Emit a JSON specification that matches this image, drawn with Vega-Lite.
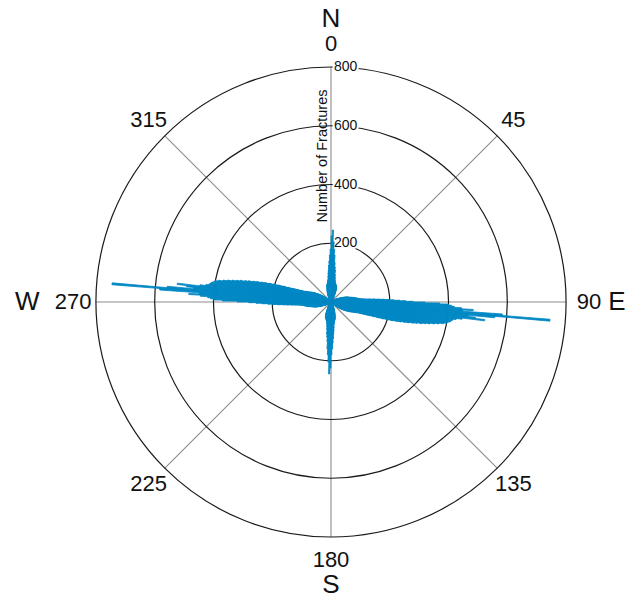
{
  "$schema": "https://vega.github.io/schema/vega-lite/v6.json",
  "width": 596,
  "height": 604,
  "autosize": {"type": "none"},
  "padding": {"left": 33, "top": 0, "right": 0, "bottom": 0},
  "background": "white",
  "config": {"view": {"stroke": null}, "font": "Liberation Sans"},
  "datasets": {
    "rose": [
      {"a":0,"b":1,"v":225},{"a":1,"b":2,"v":245},{"a":2,"b":3,"v":205},{"a":3,"b":4,"v":180},{"a":4,"b":5,"v":160},{"a":5,"b":6,"v":135},{"a":6,"b":7,"v":120},{"a":7,"b":8,"v":110},{"a":8,"b":9,"v":95},{"a":9,"b":10,"v":85},
      {"a":10,"b":11,"v":77},{"a":11,"b":12,"v":72},{"a":12,"b":13,"v":68},{"a":13,"b":14,"v":66},{"a":14,"b":15,"v":64},{"a":15,"b":16,"v":62},{"a":16,"b":17,"v":61},{"a":17,"b":18,"v":60},{"a":18,"b":19,"v":58},{"a":19,"b":20,"v":56},
      {"a":20,"b":21,"v":55},{"a":21,"b":22,"v":52},{"a":22,"b":23,"v":48},{"a":23,"b":24,"v":45},{"a":24,"b":25,"v":40},{"a":25,"b":26,"v":36},{"a":26,"b":27,"v":31},{"a":27,"b":28,"v":28},{"a":28,"b":29,"v":25},{"a":29,"b":30,"v":22},
      {"a":30,"b":31,"v":20},{"a":31,"b":32,"v":18},{"a":32,"b":33,"v":16},{"a":33,"b":34,"v":15},{"a":34,"b":35,"v":13},{"a":35,"b":36,"v":12},{"a":36,"b":37,"v":11},{"a":37,"b":38,"v":10},{"a":38,"b":39,"v":9},{"a":39,"b":40,"v":8},
      {"a":40,"b":41,"v":7},{"a":41,"b":42,"v":6},{"a":42,"b":43,"v":5},{"a":43,"b":44,"v":5},{"a":44,"b":45,"v":4},{"a":45,"b":46,"v":4},{"a":46,"b":47,"v":4},{"a":47,"b":48,"v":5},{"a":48,"b":49,"v":5},{"a":49,"b":50,"v":6},
      {"a":50,"b":51,"v":7},{"a":51,"b":52,"v":8},{"a":52,"b":53,"v":9},{"a":53,"b":54,"v":10},{"a":54,"b":55,"v":11},{"a":55,"b":56,"v":12},{"a":56,"b":57,"v":14},{"a":57,"b":58,"v":15},{"a":58,"b":59,"v":17},{"a":59,"b":60,"v":19},
      {"a":60,"b":61,"v":21},{"a":61,"b":62,"v":23},{"a":62,"b":63,"v":25},{"a":63,"b":64,"v":28},{"a":64,"b":65,"v":30},{"a":65,"b":66,"v":33},{"a":66,"b":67,"v":36},{"a":67,"b":68,"v":40},{"a":68,"b":69,"v":43},{"a":69,"b":70,"v":47},
      {"a":70,"b":71,"v":50},{"a":71,"b":72,"v":54},{"a":72,"b":73,"v":57},{"a":73,"b":74,"v":60},{"a":74,"b":75,"v":63},{"a":75,"b":76,"v":66},{"a":76,"b":77,"v":70},{"a":77,"b":78,"v":74},{"a":78,"b":79,"v":78},{"a":79,"b":80,"v":82},
      {"a":80,"b":81,"v":86},{"a":81,"b":82,"v":90},{"a":82,"b":83,"v":94},{"a":83,"b":84,"v":100},
      {"a":84,"b":84.5,"v":105},{"a":84.5,"b":85,"v":112},{"a":85,"b":85.5,"v":122},{"a":85.5,"b":86,"v":135},{"a":86,"b":86.5,"v":150},{"a":86.5,"b":87,"v":165},{"a":87,"b":87.5,"v":182},{"a":87.5,"b":88,"v":198},
      {"a":88,"b":88.5,"v":215},{"a":88.5,"b":89,"v":235},{"a":89,"b":89.5,"v":255},{"a":89.5,"b":90,"v":280},{"a":90,"b":90.5,"v":320},{"a":90.5,"b":91,"v":370},{"a":91,"b":91.5,"v":400},{"a":91.5,"b":92,"v":410},
      {"a":92,"b":92.5,"v":420},{"a":92.5,"b":93,"v":445},{"a":93,"b":93.5,"v":485},{"a":93.5,"b":94,"v":450},{"a":94,"b":94.5,"v":585},{"a":94.5,"b":95,"v":748},{"a":95,"b":95.5,"v":560},{"a":95.5,"b":96,"v":470},
      {"a":96,"b":96.5,"v":495},{"a":96.5,"b":97,"v":527},{"a":97,"b":97.5,"v":450},{"a":97.5,"b":98,"v":430},{"a":98,"b":98.5,"v":420},{"a":98.5,"b":99,"v":415},{"a":99,"b":99.5,"v":412},{"a":99.5,"b":100,"v":405},
      {"a":100,"b":100.5,"v":400},{"a":100.5,"b":101,"v":390},{"a":101,"b":101.5,"v":375},{"a":101.5,"b":102,"v":360},{"a":102,"b":102.5,"v":345},{"a":102.5,"b":103,"v":330},{"a":103,"b":103.5,"v":318},{"a":103.5,"b":104,"v":302},
      {"a":104,"b":104.5,"v":290},{"a":104.5,"b":105,"v":275},{"a":105,"b":105.5,"v":262},{"a":105.5,"b":106,"v":248},{"a":106,"b":106.5,"v":235},{"a":106.5,"b":107,"v":220},{"a":107,"b":107.5,"v":205},{"a":107.5,"b":108,"v":188},
      {"a":108,"b":108.5,"v":172},{"a":108.5,"b":109,"v":155},{"a":109,"b":109.5,"v":142},{"a":109.5,"b":110,"v":132},{"a":110,"b":110.5,"v":122},{"a":110.5,"b":111,"v":114},{"a":111,"b":111.5,"v":106},{"a":111.5,"b":112,"v":100},
      {"a":112,"b":113,"v":96},{"a":113,"b":114,"v":90},{"a":114,"b":115,"v":85},{"a":115,"b":116,"v":80},{"a":116,"b":117,"v":76},{"a":117,"b":118,"v":72},{"a":118,"b":119,"v":68},{"a":119,"b":120,"v":64},
      {"a":120,"b":121,"v":60},{"a":121,"b":122,"v":56},{"a":122,"b":123,"v":52},{"a":123,"b":124,"v":48},{"a":124,"b":125,"v":44},{"a":125,"b":126,"v":40},{"a":126,"b":127,"v":36},{"a":127,"b":128,"v":32},{"a":128,"b":129,"v":28},{"a":129,"b":130,"v":25},
      {"a":130,"b":131,"v":22},{"a":131,"b":132,"v":19},{"a":132,"b":133,"v":16},{"a":133,"b":134,"v":14},{"a":134,"b":135,"v":12},{"a":135,"b":136,"v":10},{"a":136,"b":137,"v":8},{"a":137,"b":138,"v":6},{"a":138,"b":139,"v":5},{"a":139,"b":140,"v":5},
      {"a":140,"b":141,"v":4},{"a":141,"b":142,"v":4},{"a":142,"b":143,"v":5},{"a":143,"b":144,"v":5},{"a":144,"b":145,"v":6},{"a":145,"b":146,"v":7},{"a":146,"b":147,"v":8},{"a":147,"b":148,"v":10},{"a":148,"b":149,"v":11},{"a":149,"b":150,"v":13},
      {"a":150,"b":151,"v":15},{"a":151,"b":152,"v":17},{"a":152,"b":153,"v":19},{"a":153,"b":154,"v":21},{"a":154,"b":155,"v":23},{"a":155,"b":156,"v":26},{"a":156,"b":157,"v":29},{"a":157,"b":158,"v":32},{"a":158,"b":159,"v":34},{"a":159,"b":160,"v":37},
      {"a":160,"b":161,"v":40},{"a":161,"b":162,"v":43},{"a":162,"b":163,"v":46},{"a":163,"b":164,"v":50},{"a":164,"b":165,"v":54},{"a":165,"b":166,"v":58},{"a":166,"b":167,"v":60},{"a":167,"b":168,"v":62},{"a":168,"b":169,"v":64},{"a":169,"b":170,"v":66},
      {"a":170,"b":171,"v":70},{"a":171,"b":172,"v":74},{"a":172,"b":173,"v":78},{"a":173,"b":174,"v":88},{"a":174,"b":175,"v":100},{"a":175,"b":176,"v":110},{"a":176,"b":177,"v":125},{"a":177,"b":178,"v":140},{"a":178,"b":179,"v":160},{"a":179,"b":180,"v":180},
      {"a":180,"b":181,"v":225},{"a":181,"b":182,"v":245},{"a":182,"b":183,"v":205},{"a":183,"b":184,"v":180},{"a":184,"b":185,"v":160},{"a":185,"b":186,"v":135},{"a":186,"b":187,"v":120},{"a":187,"b":188,"v":110},{"a":188,"b":189,"v":95},{"a":189,"b":190,"v":85},
      {"a":190,"b":191,"v":77},{"a":191,"b":192,"v":72},{"a":192,"b":193,"v":68},{"a":193,"b":194,"v":66},{"a":194,"b":195,"v":64},{"a":195,"b":196,"v":62},{"a":196,"b":197,"v":61},{"a":197,"b":198,"v":60},{"a":198,"b":199,"v":58},{"a":199,"b":200,"v":56},
      {"a":200,"b":201,"v":55},{"a":201,"b":202,"v":52},{"a":202,"b":203,"v":48},{"a":203,"b":204,"v":45},{"a":204,"b":205,"v":40},{"a":205,"b":206,"v":36},{"a":206,"b":207,"v":31},{"a":207,"b":208,"v":28},{"a":208,"b":209,"v":25},{"a":209,"b":210,"v":22},
      {"a":210,"b":211,"v":20},{"a":211,"b":212,"v":18},{"a":212,"b":213,"v":16},{"a":213,"b":214,"v":15},{"a":214,"b":215,"v":13},{"a":215,"b":216,"v":12},{"a":216,"b":217,"v":11},{"a":217,"b":218,"v":10},{"a":218,"b":219,"v":9},{"a":219,"b":220,"v":8},
      {"a":220,"b":221,"v":7},{"a":221,"b":222,"v":6},{"a":222,"b":223,"v":5},{"a":223,"b":224,"v":5},{"a":224,"b":225,"v":4},{"a":225,"b":226,"v":4},{"a":226,"b":227,"v":4},{"a":227,"b":228,"v":5},{"a":228,"b":229,"v":5},{"a":229,"b":230,"v":6},
      {"a":230,"b":231,"v":7},{"a":231,"b":232,"v":8},{"a":232,"b":233,"v":9},{"a":233,"b":234,"v":10},{"a":234,"b":235,"v":11},{"a":235,"b":236,"v":12},{"a":236,"b":237,"v":14},{"a":237,"b":238,"v":15},{"a":238,"b":239,"v":17},{"a":239,"b":240,"v":19},
      {"a":240,"b":241,"v":21},{"a":241,"b":242,"v":23},{"a":242,"b":243,"v":25},{"a":243,"b":244,"v":28},{"a":244,"b":245,"v":30},{"a":245,"b":246,"v":33},{"a":246,"b":247,"v":36},{"a":247,"b":248,"v":40},{"a":248,"b":249,"v":43},{"a":249,"b":250,"v":47},
      {"a":250,"b":251,"v":50},{"a":251,"b":252,"v":54},{"a":252,"b":253,"v":57},{"a":253,"b":254,"v":60},{"a":254,"b":255,"v":63},{"a":255,"b":256,"v":66},{"a":256,"b":257,"v":70},{"a":257,"b":258,"v":74},{"a":258,"b":259,"v":78},{"a":259,"b":260,"v":82},
      {"a":260,"b":261,"v":86},{"a":261,"b":262,"v":90},{"a":262,"b":263,"v":94},{"a":263,"b":264,"v":100},
      {"a":264,"b":264.5,"v":105},{"a":264.5,"b":265,"v":112},{"a":265,"b":265.5,"v":122},{"a":265.5,"b":266,"v":135},{"a":266,"b":266.5,"v":150},{"a":266.5,"b":267,"v":165},{"a":267,"b":267.5,"v":182},{"a":267.5,"b":268,"v":198},
      {"a":268,"b":268.5,"v":215},{"a":268.5,"b":269,"v":235},{"a":269,"b":269.5,"v":255},{"a":269.5,"b":270,"v":280},{"a":270,"b":270.5,"v":320},{"a":270.5,"b":271,"v":370},{"a":271,"b":271.5,"v":400},{"a":271.5,"b":272,"v":410},
      {"a":272,"b":272.5,"v":420},{"a":272.5,"b":273,"v":445},{"a":273,"b":273.5,"v":485},{"a":273.5,"b":274,"v":450},{"a":274,"b":274.5,"v":585},{"a":274.5,"b":275,"v":748},{"a":275,"b":275.5,"v":560},{"a":275.5,"b":276,"v":470},
      {"a":276,"b":276.5,"v":495},{"a":276.5,"b":277,"v":527},{"a":277,"b":277.5,"v":450},{"a":277.5,"b":278,"v":430},{"a":278,"b":278.5,"v":420},{"a":278.5,"b":279,"v":415},{"a":279,"b":279.5,"v":412},{"a":279.5,"b":280,"v":405},
      {"a":280,"b":280.5,"v":400},{"a":280.5,"b":281,"v":390},{"a":281,"b":281.5,"v":375},{"a":281.5,"b":282,"v":360},{"a":282,"b":282.5,"v":345},{"a":282.5,"b":283,"v":330},{"a":283,"b":283.5,"v":318},{"a":283.5,"b":284,"v":302},
      {"a":284,"b":284.5,"v":290},{"a":284.5,"b":285,"v":275},{"a":285,"b":285.5,"v":262},{"a":285.5,"b":286,"v":248},{"a":286,"b":286.5,"v":235},{"a":286.5,"b":287,"v":220},{"a":287,"b":287.5,"v":205},{"a":287.5,"b":288,"v":188},
      {"a":288,"b":288.5,"v":172},{"a":288.5,"b":289,"v":155},{"a":289,"b":289.5,"v":142},{"a":289.5,"b":290,"v":132},{"a":290,"b":290.5,"v":122},{"a":290.5,"b":291,"v":114},{"a":291,"b":291.5,"v":106},{"a":291.5,"b":292,"v":100},
      {"a":292,"b":293,"v":96},{"a":293,"b":294,"v":90},{"a":294,"b":295,"v":85},{"a":295,"b":296,"v":80},{"a":296,"b":297,"v":76},{"a":297,"b":298,"v":72},{"a":298,"b":299,"v":68},{"a":299,"b":300,"v":64},
      {"a":300,"b":301,"v":60},{"a":301,"b":302,"v":56},{"a":302,"b":303,"v":52},{"a":303,"b":304,"v":48},{"a":304,"b":305,"v":44},{"a":305,"b":306,"v":40},{"a":306,"b":307,"v":36},{"a":307,"b":308,"v":32},{"a":308,"b":309,"v":28},{"a":309,"b":310,"v":25},
      {"a":310,"b":311,"v":22},{"a":311,"b":312,"v":19},{"a":312,"b":313,"v":16},{"a":313,"b":314,"v":14},{"a":314,"b":315,"v":12},{"a":315,"b":316,"v":10},{"a":316,"b":317,"v":8},{"a":317,"b":318,"v":6},{"a":318,"b":319,"v":5},{"a":319,"b":320,"v":5},
      {"a":320,"b":321,"v":4},{"a":321,"b":322,"v":4},{"a":322,"b":323,"v":5},{"a":323,"b":324,"v":5},{"a":324,"b":325,"v":6},{"a":325,"b":326,"v":7},{"a":326,"b":327,"v":8},{"a":327,"b":328,"v":10},{"a":328,"b":329,"v":11},{"a":329,"b":330,"v":13},
      {"a":330,"b":331,"v":15},{"a":331,"b":332,"v":17},{"a":332,"b":333,"v":19},{"a":333,"b":334,"v":21},{"a":334,"b":335,"v":23},{"a":335,"b":336,"v":26},{"a":336,"b":337,"v":29},{"a":337,"b":338,"v":32},{"a":338,"b":339,"v":34},{"a":339,"b":340,"v":37},
      {"a":340,"b":341,"v":40},{"a":341,"b":342,"v":43},{"a":342,"b":343,"v":46},{"a":343,"b":344,"v":50},{"a":344,"b":345,"v":54},{"a":345,"b":346,"v":58},{"a":346,"b":347,"v":60},{"a":347,"b":348,"v":62},{"a":348,"b":349,"v":64},{"a":349,"b":350,"v":66},
      {"a":350,"b":351,"v":70},{"a":351,"b":352,"v":74},{"a":352,"b":353,"v":78},{"a":353,"b":354,"v":88},{"a":354,"b":355,"v":100},{"a":355,"b":356,"v":110},{"a":356,"b":357,"v":125},{"a":357,"b":358,"v":140},{"a":358,"b":359,"v":160},{"a":359,"b":360,"v":180}
    ],
    "rings": [{"r": 200}, {"r": 400}, {"r": 600}, {"r": 800}],
    "spokes": [{"d": 0}, {"d": 45}, {"d": 90}, {"d": 135}, {"d": 180}, {"d": 225}, {"d": 270}, {"d": 315}],
    "deglabels": [
      {"d": 0, "t": "0"}, {"d": 45, "t": "45"}, {"d": 90, "t": "90"}, {"d": 135, "t": "135"},
      {"d": 180, "t": "180"}, {"d": 225, "t": "225"}, {"d": 270, "t": "270"}, {"d": 315, "t": "315"}
    ],
    "ns": [{"d": 0, "t": "N"}, {"d": 180, "t": "S"}],
    "e": [{"d": 90, "t": "E"}],
    "w": [{"d": 270, "t": "W"}],
    "title": [{"d": 0, "t": "Number of Fractures"}]
  },
  "layer": [
    {
      "data": {"name": "spokes"},
      "mark": {"type": "arc", "filled": false, "stroke": "#8c8c8c", "strokeWidth": 1.1},
      "encoding": {
        "theta": {"field": "d", "type": "quantitative", "scale": {"domain": [0, 360]}, "stack": null},
        "theta2": {"field": "d"},
        "radius": {"datum": 800, "type": "quantitative", "scale": {"domain": [0, 800], "range": [0, 235]}, "stack": null}
      }
    },
    {
      "data": {"name": "rings"},
      "mark": {"type": "arc", "filled": false, "stroke": "#1a1a1a", "strokeWidth": 1.2, "theta": 0, "theta2": 6.2832},
      "encoding": {
        "radius": {"field": "r", "type": "quantitative", "stack": null}
      }
    },
    {
      "data": {"name": "rings"},
      "mark": {"type": "text", "align": "left", "baseline": "middle", "dx": 3, "fontSize": 14, "font": "Liberation Sans", "stroke": "white", "strokeWidth": 4, "fill": "white"},
      "encoding": {
        "theta": {"datum": 0, "type": "quantitative", "stack": null},
        "radius": {"field": "r", "type": "quantitative", "stack": null},
        "text": {"field": "r", "type": "quantitative"}
      }
    },
    {
      "data": {"name": "rose"},
      "mark": {"type": "arc", "fill": "#0088C4", "stroke": "#0088C4", "strokeWidth": 0.8},
      "encoding": {
        "theta": {"field": "a", "type": "quantitative", "stack": null},
        "theta2": {"field": "b"},
        "radius": {"field": "v", "type": "quantitative", "stack": null}
      }
    },
    {
      "data": {"name": "rings"},
      "mark": {"type": "text", "align": "left", "baseline": "middle", "dx": 3, "fontSize": 14, "font": "Liberation Sans", "fill": "#111"},
      "encoding": {
        "theta": {"datum": 0, "type": "quantitative", "stack": null},
        "radius": {"field": "r", "type": "quantitative", "stack": null},
        "text": {"field": "r", "type": "quantitative"}
      }
    },
    {
      "data": {"name": "title"},
      "mark": {"type": "text", "align": "center", "baseline": "alphabetic", "angle": 270, "dy": -4, "fontSize": 14.5, "font": "Liberation Sans", "fill": "#111"},
      "encoding": {
        "theta": {"field": "d", "type": "quantitative", "stack": null},
        "radius": {"datum": 497, "type": "quantitative", "stack": null},
        "text": {"field": "t"}
      }
    },
    {
      "data": {"name": "deglabels"},
      "mark": {"type": "text", "align": "center", "baseline": "middle", "fontSize": 22, "font": "Liberation Sans", "fill": "#111"},
      "encoding": {
        "theta": {"field": "d", "type": "quantitative", "stack": null},
        "radius": {"datum": 878, "type": "quantitative", "stack": null},
        "text": {"field": "t"}
      }
    },
    {
      "data": {"name": "ns"},
      "mark": {"type": "text", "align": "center", "baseline": "middle", "fontSize": 26, "font": "Liberation Sans", "fill": "#111"},
      "encoding": {
        "theta": {"field": "d", "type": "quantitative", "stack": null},
        "radius": {"datum": 965, "type": "quantitative", "stack": null},
        "text": {"field": "t"}
      }
    },
    {
      "data": {"name": "e"},
      "mark": {"type": "text", "align": "center", "baseline": "middle", "fontSize": 26, "font": "Liberation Sans", "fill": "#111"},
      "encoding": {
        "theta": {"field": "d", "type": "quantitative", "stack": null},
        "radius": {"datum": 973, "type": "quantitative", "stack": null},
        "text": {"field": "t"}
      }
    },
    {
      "data": {"name": "w"},
      "mark": {"type": "text", "align": "center", "baseline": "middle", "fontSize": 26, "font": "Liberation Sans", "fill": "#111"},
      "encoding": {
        "theta": {"field": "d", "type": "quantitative", "stack": null},
        "radius": {"datum": 1034, "type": "quantitative", "stack": null},
        "text": {"field": "t"}
      }
    }
  ]
}
